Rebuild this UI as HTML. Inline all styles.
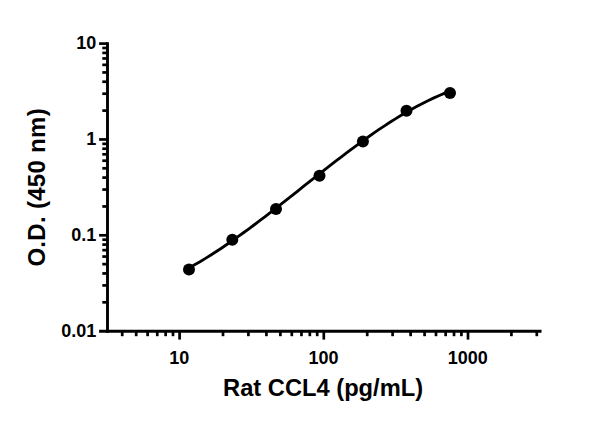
<!DOCTYPE html>
<html><head><meta charset="utf-8"><title>Rat CCL4 standard curve</title><style>
html,body{margin:0;padding:0;background:#fff;}
body{width:600px;height:421px;overflow:hidden;font-family:"Liberation Sans",sans-serif;}
svg{display:block;}
</style></head><body>
<svg width="600" height="421" viewBox="0 0 600 421" role="img" aria-label="Rat CCL4 (pg/mL) vs O.D. (450 nm)">
<rect width="600" height="421" fill="#fff"/>
<g id="axes"><title>Log-log axes: x 10 to 1000, y 0.01 to 10</title><line x1="107.50" y1="42.25" x2="107.50" y2="332.65" stroke="#000" stroke-width="2.9"/><line x1="99.10" y1="331.20" x2="541.50" y2="331.20" stroke="#000" stroke-width="2.9"/><line x1="99.10" y1="43.60" x2="107.50" y2="43.60" stroke="#000" stroke-width="2.7"/><line x1="99.10" y1="139.45" x2="107.50" y2="139.45" stroke="#000" stroke-width="2.7"/><line x1="102.30" y1="110.60" x2="107.50" y2="110.60" stroke="#000" stroke-width="2.7"/><line x1="102.30" y1="93.72" x2="107.50" y2="93.72" stroke="#000" stroke-width="2.7"/><line x1="102.30" y1="81.74" x2="107.50" y2="81.74" stroke="#000" stroke-width="2.7"/><line x1="102.30" y1="72.45" x2="107.50" y2="72.45" stroke="#000" stroke-width="2.7"/><line x1="102.30" y1="64.86" x2="107.50" y2="64.86" stroke="#000" stroke-width="2.7"/><line x1="102.30" y1="58.45" x2="107.50" y2="58.45" stroke="#000" stroke-width="2.7"/><line x1="102.30" y1="52.89" x2="107.50" y2="52.89" stroke="#000" stroke-width="2.7"/><line x1="102.30" y1="47.99" x2="107.50" y2="47.99" stroke="#000" stroke-width="2.7"/><line x1="99.10" y1="235.30" x2="107.50" y2="235.30" stroke="#000" stroke-width="2.7"/><line x1="102.30" y1="206.45" x2="107.50" y2="206.45" stroke="#000" stroke-width="2.7"/><line x1="102.30" y1="189.57" x2="107.50" y2="189.57" stroke="#000" stroke-width="2.7"/><line x1="102.30" y1="177.59" x2="107.50" y2="177.59" stroke="#000" stroke-width="2.7"/><line x1="102.30" y1="168.30" x2="107.50" y2="168.30" stroke="#000" stroke-width="2.7"/><line x1="102.30" y1="160.71" x2="107.50" y2="160.71" stroke="#000" stroke-width="2.7"/><line x1="102.30" y1="154.30" x2="107.50" y2="154.30" stroke="#000" stroke-width="2.7"/><line x1="102.30" y1="148.74" x2="107.50" y2="148.74" stroke="#000" stroke-width="2.7"/><line x1="102.30" y1="143.84" x2="107.50" y2="143.84" stroke="#000" stroke-width="2.7"/><line x1="102.30" y1="302.30" x2="107.50" y2="302.30" stroke="#000" stroke-width="2.7"/><line x1="102.30" y1="285.42" x2="107.50" y2="285.42" stroke="#000" stroke-width="2.7"/><line x1="102.30" y1="273.44" x2="107.50" y2="273.44" stroke="#000" stroke-width="2.7"/><line x1="102.30" y1="264.15" x2="107.50" y2="264.15" stroke="#000" stroke-width="2.7"/><line x1="102.30" y1="256.56" x2="107.50" y2="256.56" stroke="#000" stroke-width="2.7"/><line x1="102.30" y1="250.15" x2="107.50" y2="250.15" stroke="#000" stroke-width="2.7"/><line x1="102.30" y1="244.59" x2="107.50" y2="244.59" stroke="#000" stroke-width="2.7"/><line x1="102.30" y1="239.69" x2="107.50" y2="239.69" stroke="#000" stroke-width="2.7"/><line x1="179.60" y1="331.20" x2="179.60" y2="339.60" stroke="#000" stroke-width="2.7"/><line x1="323.80" y1="331.20" x2="323.80" y2="339.60" stroke="#000" stroke-width="2.7"/><line x1="468.00" y1="331.20" x2="468.00" y2="339.60" stroke="#000" stroke-width="2.7"/><line x1="122.22" y1="331.20" x2="122.22" y2="336.20" stroke="#000" stroke-width="2.7"/><line x1="136.19" y1="331.20" x2="136.19" y2="336.20" stroke="#000" stroke-width="2.7"/><line x1="147.61" y1="331.20" x2="147.61" y2="336.20" stroke="#000" stroke-width="2.7"/><line x1="157.26" y1="331.20" x2="157.26" y2="336.20" stroke="#000" stroke-width="2.7"/><line x1="165.63" y1="331.20" x2="165.63" y2="336.20" stroke="#000" stroke-width="2.7"/><line x1="173.00" y1="331.20" x2="173.00" y2="336.20" stroke="#000" stroke-width="2.7"/><line x1="223.01" y1="331.20" x2="223.01" y2="336.20" stroke="#000" stroke-width="2.7"/><line x1="248.40" y1="331.20" x2="248.40" y2="336.20" stroke="#000" stroke-width="2.7"/><line x1="266.42" y1="331.20" x2="266.42" y2="336.20" stroke="#000" stroke-width="2.7"/><line x1="280.39" y1="331.20" x2="280.39" y2="336.20" stroke="#000" stroke-width="2.7"/><line x1="291.81" y1="331.20" x2="291.81" y2="336.20" stroke="#000" stroke-width="2.7"/><line x1="301.46" y1="331.20" x2="301.46" y2="336.20" stroke="#000" stroke-width="2.7"/><line x1="309.83" y1="331.20" x2="309.83" y2="336.20" stroke="#000" stroke-width="2.7"/><line x1="317.20" y1="331.20" x2="317.20" y2="336.20" stroke="#000" stroke-width="2.7"/><line x1="367.21" y1="331.20" x2="367.21" y2="336.20" stroke="#000" stroke-width="2.7"/><line x1="392.60" y1="331.20" x2="392.60" y2="336.20" stroke="#000" stroke-width="2.7"/><line x1="410.62" y1="331.20" x2="410.62" y2="336.20" stroke="#000" stroke-width="2.7"/><line x1="424.59" y1="331.20" x2="424.59" y2="336.20" stroke="#000" stroke-width="2.7"/><line x1="436.01" y1="331.20" x2="436.01" y2="336.20" stroke="#000" stroke-width="2.7"/><line x1="445.66" y1="331.20" x2="445.66" y2="336.20" stroke="#000" stroke-width="2.7"/><line x1="454.03" y1="331.20" x2="454.03" y2="336.20" stroke="#000" stroke-width="2.7"/><line x1="461.40" y1="331.20" x2="461.40" y2="336.20" stroke="#000" stroke-width="2.7"/><line x1="511.41" y1="331.20" x2="511.41" y2="336.20" stroke="#000" stroke-width="2.7"/><line x1="536.80" y1="331.20" x2="536.80" y2="336.20" stroke="#000" stroke-width="2.7"/></g>
<g id="curve"><title>4PL standard curve with 7 data points</title><path d="M189.18,267.82L194.61,264.80L200.03,261.66L205.46,258.39L210.89,255.02L216.31,251.54L221.74,247.96L227.17,244.29L232.59,240.53L238.02,236.68L243.44,232.77L248.87,228.79L254.30,224.75L259.72,220.65L265.15,216.51L270.57,212.33L276.00,208.12L281.43,203.87L286.85,199.61L292.28,195.33L297.70,191.04L303.13,186.74L308.56,182.45L313.98,178.16L319.41,173.89L324.83,169.63L330.26,165.40L335.69,161.20L341.11,157.03L346.54,152.91L351.96,148.84L357.39,144.82L362.82,140.87L368.24,136.98L373.67,133.18L379.09,129.45L384.52,125.82L389.95,122.28L395.37,118.84L400.80,115.52L406.23,112.31L411.65,109.22L417.08,106.25L422.50,103.42L427.93,100.71L433.36,98.15L438.78,95.71L444.21,93.42L449.63,91.26" fill="none" stroke="#000" stroke-width="2.85" stroke-linejoin="round"/><circle cx="189.0" cy="269.5" r="6.0" fill="#000"/><circle cx="232.3" cy="239.8" r="6.0" fill="#000"/><circle cx="276.0" cy="209.0" r="6.0" fill="#000"/><circle cx="319.5" cy="175.8" r="6.0" fill="#000"/><circle cx="362.9" cy="141.5" r="6.0" fill="#000"/><circle cx="406.5" cy="110.8" r="6.0" fill="#000"/><circle cx="450.0" cy="93.0" r="6.0" fill="#000"/></g>
<g id="ticklabels" font-family="'Liberation Sans', sans-serif" font-size="18" font-weight="bold" fill="#000"><title>10 1 0.1 0.01 / 10 100 1000</title><text x="96.25" y="49.00" text-anchor="end">10</text><text x="96.25" y="144.85" text-anchor="end">1</text><text x="96.25" y="240.70" text-anchor="end">0.1</text><text x="96.25" y="336.55" text-anchor="end">0.01</text><text x="179.25" y="363.85" text-anchor="middle">10</text><text x="323.45" y="363.85" text-anchor="middle">100</text><text x="467.65" y="363.85" text-anchor="middle">1000</text></g>
<g id="xlabel"><title>Rat CCL4 (pg/mL)</title><g transform="translate(0.00,396.35)"><text x="323.1" y="0" text-anchor="middle" font-family="'Liberation Sans', sans-serif" font-size="23.7" font-weight="bold" fill="#000">Rat CCL4 (pg/mL)</text></g></g>
<g id="ylabel"><title>O.D. (450 nm)</title><g transform="translate(44.95,266.70) rotate(-90)"><text x="0.1" y="0" textLength="158.3" lengthAdjust="spacing" font-family="'Liberation Sans', sans-serif" font-size="24" font-weight="bold" fill="#000">O.D. (450 nm)</text></g></g>
</svg>
</body></html>
